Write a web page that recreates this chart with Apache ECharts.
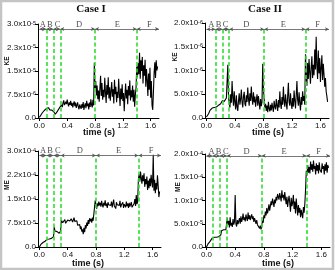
<!DOCTYPE html>
<html><head><meta charset="utf-8">
<script src="https://cdn.jsdelivr.net/npm/echarts@6/dist/echarts.min.js"></script>
<style>html,body{margin:0;padding:0;background:#fff}#c{width:335px;height:270px}</style>
</head><body><div id="c"></div><script>
// ---- data (sampled every 0.01 s from t = 0 to 1.70 s) ----
const sampleStep = 0.01;
// Case I kinetic energy, units of 1e-6
const caseIKE = [
0.2,0.5,0.9,1.2,1.6,1.5,2.0,2.4,2.3,2.8,3.0,
3.2,2.9,3.3,2.8,2.6,3.1,2.7,2.5,2.8,2.4,
1.9,1.5,1.2,1.6,1.3,2.2,2.8,2.4,3.3,3.6,
3.0,4.2,3.5,4.8,5.6,4.1,3.6,5.2,4.4,5.9,
4.6,3.7,5.0,4.2,5.5,3.9,4.8,3.4,4.5,5.3,
3.8,4.9,3.2,4.1,5.0,3.5,2.8,4.3,3.6,2.9,
4.4,3.3,5.1,2.6,3.9,4.7,3.1,5.5,3.8,4.6,
2.7,4.9,3.5,6.0,4.2,3.4,5.8,4.0,17.6,9.5,
11.8,7.2,10.4,6.0,8.8,5.2,9.6,13.5,7.0,11.2,
5.8,9.0,6.6,12.8,8.2,4.8,10.5,7.4,13.0,6.2,
9.8,5.5,8.6,11.5,6.8,9.2,4.6,12.2,7.6,10.0,
5.0,8.4,6.4,12.5,7.8,3.8,9.4,6.0,10.8,5.4,
8.0,2.2,7.0,11.0,6.2,9.0,4.4,10.2,7.2,12.0,
5.6,8.8,6.6,10.4,5.2,9.0,3.6,7.4,9.6,16.4,
13.0,17.5,14.0,20.8,12.5,18.4,15.0,19.5,11.0,16.8,
13.5,18.6,10.0,15.6,12.0,7.0,14.2,9.0,16.0,6.5,
11.8,4.0,2.6,8.5,14.5,17.8,12.8,18.4,15.2,16.5];
// Case II kinetic energy, units of 1e-7
const caseIIKE = [
0.2,0.4,0.6,0.9,1.3,1.6,1.5,1.9,2.1,2.2,2.3,
2.2,2.5,2.4,2.3,2.6,2.5,2.7,2.9,2.8,3.0,
3.3,3.6,3.4,3.8,3.5,3.9,3.6,4.2,4.0,11.2,
4.5,3.0,2.2,5.0,3.2,7.8,4.4,2.6,5.6,3.4,
1.8,4.8,2.4,1.5,3.6,5.2,2.8,4.0,6.0,3.3,
2.2,4.6,5.5,3.0,2.5,4.8,3.4,6.4,4.0,2.6,
5.2,3.6,6.6,4.2,2.8,5.4,3.3,4.5,2.4,3.8,
5.0,2.6,4.6,3.2,1.8,4.0,2.5,3.4,11.4,6.0,
4.0,2.2,3.0,1.5,2.6,1.2,3.4,2.0,1.4,2.8,
1.6,3.2,2.2,1.3,3.6,2.4,1.8,4.0,2.6,1.5,
3.8,2.2,5.6,3.0,1.9,4.4,2.8,6.6,3.6,2.4,
5.0,3.2,1.8,4.6,7.4,3.4,2.6,5.2,3.0,1.9,
4.2,2.4,5.8,3.6,2.0,4.8,7.8,3.8,2.6,5.4,
3.2,1.6,4.4,2.8,5.6,3.6,4.6,2.8,13.4,9.0,
6.8,11.6,8.2,12.4,9.6,7.2,10.8,13.0,8.4,11.2,
9.0,14.4,10.2,17.1,11.0,8.2,14.2,9.4,12.6,7.6,
10.6,13.2,8.0,11.4,9.2,6.6,8.4,5.6,4.6,3.4];
// Case I magnetic energy, units of 1e-5
const caseIME = [
0.0,0.4,0.8,1.1,1.3,1.4,1.6,1.7,1.8,2.0,2.2,
2.4,2.5,2.6,2.5,2.7,2.8,2.7,2.9,3.0,3.2,
6.2,5.0,4.6,5.4,4.8,4.5,5.2,4.3,4.0,5.0,
8.4,8.0,7.6,8.2,7.8,8.6,7.4,8.0,7.7,8.4,
7.9,8.6,8.1,7.5,8.8,8.2,7.8,8.5,9.2,8.0,
8.6,7.6,8.2,6.8,7.4,6.2,7.0,5.6,6.4,4.8,
5.5,4.0,6.0,4.6,6.8,5.8,7.6,6.6,8.4,7.2,
9.0,8.0,8.8,7.6,9.2,8.2,7.8,8.5,14.6,13.2,
12.0,13.6,12.8,14.2,13.0,13.8,12.6,14.4,13.2,12.4,
13.8,13.0,14.6,12.8,13.6,12.2,14.0,13.2,12.6,13.8,
13.0,14.2,12.4,13.6,14.8,12.8,13.4,12.0,14.0,13.2,
12.6,13.8,13.0,14.4,12.4,13.2,12.8,14.0,12.2,13.4,
13.0,12.4,14.2,12.8,13.6,12.2,13.8,12.6,13.2,14.0,
12.4,13.0,12.2,13.6,15.0,12.8,16.2,13.4,14.2,21.0,
22.8,20.4,23.6,21.6,19.8,22.4,20.6,23.0,18.8,21.2,
19.6,22.0,17.8,20.8,18.4,21.4,19.0,22.6,20.2,18.6,
28.8,17.6,21.0,16.8,20.0,18.0,22.4,19.2,15.6,17.4];
// Case II magnetic energy, units of 1e-5
const caseIIME = [
0.0,0.3,0.6,0.8,1.0,1.2,1.4,1.6,1.9,2.0,2.1,
2.1,2.0,2.2,2.1,2.1,2.2,2.2,2.1,2.3,2.6,
3.5,3.6,3.6,3.7,3.6,3.8,3.7,3.9,6.2,4.8,
5.6,4.2,6.4,4.6,5.2,4.3,6.0,4.8,5.4,11.2,
5.0,4.4,5.8,4.9,5.6,6.2,5.0,6.6,5.4,6.0,
7.2,5.8,6.4,5.5,7.0,6.2,5.6,7.4,6.0,6.8,
5.8,6.5,7.0,6.0,6.6,5.4,6.2,5.6,5.0,5.8,
4.8,5.2,4.4,4.0,4.6,3.8,4.4,5.8,5.2,6.8,
6.2,7.6,6.8,8.4,7.2,8.0,9.2,7.8,8.8,9.8,
9.0,10.4,9.6,8.6,10.2,9.4,10.8,10.0,11.4,11.0,
10.2,11.6,10.8,9.8,12.2,10.6,11.2,10.0,11.8,10.4,
9.2,10.8,8.6,10.0,11.0,9.4,7.6,10.6,8.8,9.6,
11.2,8.2,9.8,7.2,10.4,8.6,6.8,9.0,7.4,8.4,
6.4,8.0,7.0,6.2,8.6,7.4,9.4,12.4,16.4,15.4,
17.6,16.0,17.2,15.8,18.4,16.6,17.8,16.2,18.6,16.8,
17.4,15.6,18.0,16.4,17.6,15.8,18.2,16.6,17.0,16.0,
18.0,16.8,17.4,15.6,17.8,16.4,18.2,16.0,17.6,17.0];

const xTicks = [0, 0.4, 0.8, 1.2, 1.6];
const xTickLabels = ['0.0', '0.4', '0.8', '1.2', '1.6'];
const yTicksIKE = [0, 7.5, 15, 22.5, 30];
const yLabelsIKE = ['0.0', '7.5x10{s|-6}', '1.5x10{s|-5}', '2.3x10{s|-5}', '3.0x10{s|-5}'];
const yTicksIIKE = [0, 5, 10, 15, 20];
const yLabelsIIKE = ['0.0', '5.0x10{s|-7}', '1.0x10{s|-6}', '1.5x10{s|-6}', '2.0x10{s|-6}'];
const yTicksIME = [0, 7.5, 15, 22.5, 30];
const yLabelsIME = ['0.0', '7.5x10{s|-5}', '1.5x10{s|-4}', '2.2x10{s|-4}', '3.0x10{s|-4}'];
const yTicksIIME = [0, 5, 10, 15, 20];
const yLabelsIIME = ['0.0', '5.0x10{s|-5}', '1.0x10{s|-4}', '1.5x10{s|-4}', '2.0x10{s|-4}'];

const phaseNames = ['A', 'B', 'C', 'D', 'E', 'F'];
const phaseLabelT_I = [0.05, 0.15, 0.26, 0.57, 1.12, 1.58];
const phaseLabelT_II = [0.07, 0.17, 0.27, 0.56, 1.08, 1.56];
const boundsIKE = [0.1, 0.2, 0.3, 0.8, 1.4];
const boundsIIKE = [0.126, 0.228, 0.32, 0.81, 1.39];
const boundsIME = [0.1, 0.2, 0.3, 0.8, 1.4];
const boundsIIME = [0.084, 0.186, 0.284, 0.77, 1.39];

const X_MIN = -0.02, X_MAX = 1.72;
const SANS = 'Liberation Sans, Arial, sans-serif';
const SERIF = 'Liberation Serif, Times New Roman, serif';

const panels = [
  {vals: caseIKE, ticks: yTicksIKE, labels: yLabelsIKE, bounds: boundsIKE, lt: phaseLabelT_I, max: 30, arrowY: 28.4,
   grid: {left: 38, top: 24, width: 121, height: 94}},
  {vals: caseIIKE, ticks: yTicksIIKE, labels: yLabelsIIKE, bounds: boundsIIKE, lt: phaseLabelT_II, max: 20, arrowY: 18.7,
   grid: {left: 205, top: 23, width: 124, height: 95}},
  {vals: caseIME, ticks: yTicksIME, labels: yLabelsIME, bounds: boundsIME, lt: phaseLabelT_I, max: 30, arrowY: 28.6,
   grid: {left: 38, top: 151, width: 123, height: 96}},
  {vals: caseIIME, ticks: yTicksIIME, labels: yLabelsIIME, bounds: boundsIIME, lt: phaseLabelT_II, max: 20, arrowY: 19.6,
   grid: {left: 205, top: 154, width: 125, height: 93}}
];

const grids = [], xAxes = [], yAxes = [], series = [];
panels.forEach((p, i) => {
  grids.push(p.grid);
  xAxes.push({
    gridIndex: i, type: 'value', min: X_MIN, max: X_MAX,
    axisLine: {show: true, onZero: false, lineStyle: {color: '#000', width: 1}},
    axisTick: {show: true, customValues: xTicks, length: 3, lineStyle: {color: '#000'}},
    axisLabel: {customValues: xTicks, margin: 4, fontSize: 8, fontFamily: SANS, color: '#111',
      formatter: v => xTickLabels[xTicks.indexOf(Math.round(v * 10) / 10)] || ''},
    splitLine: {show: false}
  });
  yAxes.push({
    gridIndex: i, type: 'value', min: 0, max: p.max, interval: p.ticks[1],
    axisLine: {show: true, onZero: false, lineStyle: {color: '#000', width: 1}},
    axisTick: {show: true, length: 3, lineStyle: {color: '#000'}},
    axisLabel: {margin: 2, fontSize: 8, fontFamily: SANS, color: '#111',
      formatter: v => { const k = p.ticks.findIndex(t => Math.abs(t - v) < 1e-6); return k >= 0 ? p.labels[k] : ''; },
      rich: {s: {fontSize: 5.5, fontFamily: SANS, color: '#111', verticalAlign: 'top'}}},
    splitLine: {show: false}
  });
  const data = p.vals.map((v, k) => [+(k * sampleStep).toFixed(2), v]);
  series.push({
    type: 'line', xAxisIndex: i, yAxisIndex: i, data: data, showSymbol: false, symbol: 'none',
    lineStyle: {color: '#000', width: 1.1}, animation: false, z: 2,
    markLine: {
      silent: true, symbol: 'none', animation: false,
      lineStyle: {color: '#33dd33', width: 1.6, type: [4, 2.5]},
      label: {show: false},
      data: p.bounds.map(b => [{coord: [b, 0]}, {coord: [b, p.arrowY]}])
    }
  });
  const edges = [0, ...p.bounds, X_MAX];
  series.push({
    type: 'scatter', xAxisIndex: i, yAxisIndex: i, symbolSize: 0, animation: false, z: 3,
    data: phaseNames.map((n, k) => [p.lt[k], p.arrowY, n]),
    label: {show: true, position: 'top', distance: 0, formatter: q => q.value[2],
      fontFamily: SERIF, fontSize: 8.5, color: '#222'},
    markLine: {
      silent: true, animation: false, symbol: ['arrow', 'arrow'], symbolSize: [3, 4],
      lineStyle: {color: '#555', width: 0.8, type: 'solid'},
      label: {show: false},
      data: phaseNames.map((n, k) => [{coord: [edges[k], p.arrowY]}, {coord: [edges[k + 1], p.arrowY]}])
    }
  });
});

const txt = (t, x, y, o) => Object.assign({type: 'text', x: x, y: y,
  style: Object.assign({text: t, fill: '#111', font: 'bold 9px ' + SANS, textAlign: 'center', textVerticalAlign: 'middle'}, o || {})});
const rot = (t, x, y) => ({type: 'text', x: x, y: y, rotation: Math.PI / 2,
  style: {text: t, fill: '#111', font: 'bold 6.5px ' + SANS, textAlign: 'center', textVerticalAlign: 'middle'}});

const chart = echarts.init(document.getElementById('c'), null, {renderer: 'canvas'});
chart.setOption({
  animation: false,
  backgroundColor: '#fff',
  grid: grids, xAxis: xAxes, yAxis: yAxes, series: series,
  graphic: [
    {type: 'rect', shape: {x: 1, y: 1, width: 332, height: 268}, style: {fill: 'none', stroke: '#c4c4c4', lineWidth: 2.5}, silent: true},
    txt('Case I', 91, 9, {font: 'bold 11px ' + SERIF}),
    txt('Case II', 265, 9, {font: 'bold 11px ' + SERIF}),
    txt('time (s)', 99, 133), txt('time (s)', 268, 133),
    txt('time (s)', 88, 264), txt('time (s)', 278, 264),
    rot('KE', 7, 61), rot('KE', 175, 57), rot('ME', 7, 185), rot('ME', 178, 187)
  ]
});
</script></body></html>
